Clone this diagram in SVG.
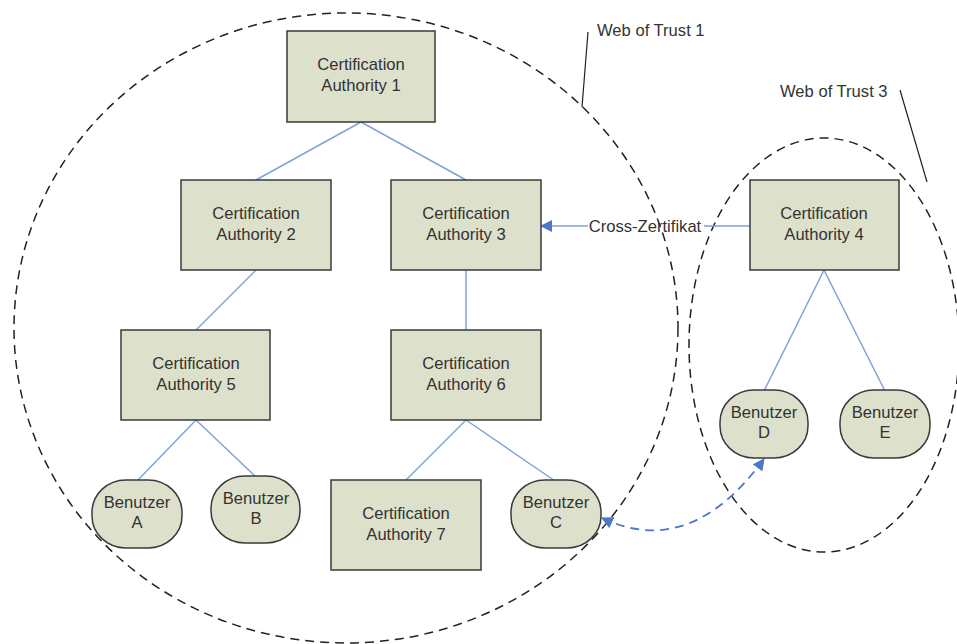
<svg xmlns="http://www.w3.org/2000/svg" width="957" height="644" viewBox="0 0 957 644">
<style>
.box{fill:#dde0cb;stroke:#3a3a3a;stroke-width:1.5}
.usr{fill:#dde0cb;stroke:#3a3a3a;stroke-width:1.5}
.t{font-family:"Liberation Sans",Arial,sans-serif;font-size:16.6px;fill:#333;text-anchor:middle}
.lbl{font-family:"Liberation Sans",Arial,sans-serif;font-size:16.6px;fill:#333}
.ln{stroke:#7fa3d8;stroke-width:1.5;fill:none}
.web{fill:none;stroke:#222;stroke-width:1.5;stroke-dasharray:9,6}
.lead{stroke:#222;stroke-width:1.2;fill:none}
</style>
<defs>
<marker id="ahs" markerWidth="12" markerHeight="12" refX="1" refY="6" orient="auto" markerUnits="userSpaceOnUse" viewBox="0 0 12 12">
<path d="M12,0 L0,6 L12,12 z" fill="#4a78c8"/>
</marker>
<marker id="ahe" markerWidth="12" markerHeight="12" refX="11" refY="6" orient="auto" markerUnits="userSpaceOnUse" viewBox="0 0 12 12">
<path d="M0,0 L12,6 L0,12 z" fill="#4a78c8"/>
</marker>
</defs>
<rect width="957" height="644" fill="#fff"/>
<g id="webs">
<ellipse class="web" cx="346" cy="328" rx="332" ry="315"/>
<ellipse class="web" cx="824" cy="345" rx="135" ry="207"/>
<path class="lead" d="M588,32 L582,107"/>
<path class="lead" d="M900,90 L927,182"/>
<text class="lbl" x="597" y="36">Web of Trust 1</text>
<text class="lbl" x="780" y="97">Web of Trust 3</text>
</g>
<g id="connectors">
<path class="ln" d="M361,122 L256,180"/>
<path class="ln" d="M361,122 L466,180"/>
<path class="ln" d="M256,270 L196,330"/>
<path class="ln" d="M466,270 L466,330"/>
<path class="ln" d="M196,420 L137,481"/>
<path class="ln" d="M196,420 L256,477"/>
<path class="ln" d="M466,420 L406,480"/>
<path class="ln" d="M466,420 L555,481"/>
<path class="ln" d="M824,270 L764,391"/>
<path class="ln" d="M824,270 L885,391"/>
<path class="ln" d="M750,226 L704,226 M588,226 L541,226" marker-end="url(#ahe)"/>
<path d="M602,518 Q690,560 764,459" fill="none" stroke="#4a78c8" stroke-width="1.8" stroke-dasharray="9,6" marker-start="url(#ahs)" marker-end="url(#ahe)"/>
<text class="t" x="645" y="232">Cross-Zertifikat</text>
</g>
<g id="ca1"><rect class="box" x="287" y="31" width="148" height="91"/><text class="t" x="361" y="70">Certification</text><text class="t" x="361" y="91">Authority 1</text></g>
<g id="ca2"><rect class="box" x="181" y="180" width="150" height="90"/><text class="t" x="256" y="219">Certification</text><text class="t" x="256" y="240">Authority 2</text></g>
<g id="ca3"><rect class="box" x="391" y="180" width="150" height="90"/><text class="t" x="466" y="219">Certification</text><text class="t" x="466" y="240">Authority 3</text></g>
<g id="ca4"><rect class="box" x="750" y="180" width="149" height="90"/><text class="t" x="824" y="219">Certification</text><text class="t" x="824" y="240">Authority 4</text></g>
<g id="ca5"><rect class="box" x="121" y="330" width="149" height="90"/><text class="t" x="196" y="369">Certification</text><text class="t" x="196" y="390">Authority 5</text></g>
<g id="ca6"><rect class="box" x="391" y="330" width="150" height="90"/><text class="t" x="466" y="369">Certification</text><text class="t" x="466" y="390">Authority 6</text></g>
<g id="ca7"><rect class="box" x="331" y="480" width="150" height="90"/><text class="t" x="406" y="519">Certification</text><text class="t" x="406" y="540">Authority 7</text></g>
<g id="ua"><rect class="usr" x="92" y="480" width="90" height="68" rx="34" ry="32"/><text class="t" x="137" y="508">Benutzer</text><text class="t" x="137" y="528">A</text></g>
<g id="ub"><rect class="usr" x="211" y="476" width="89" height="67" rx="34" ry="32"/><text class="t" x="256" y="504">Benutzer</text><text class="t" x="256" y="524">B</text></g>
<g id="uc"><rect class="usr" x="511" y="480" width="90" height="68" rx="34" ry="32"/><text class="t" x="556" y="508">Benutzer</text><text class="t" x="556" y="528">C</text></g>
<g id="ud"><rect class="usr" x="720" y="390" width="88" height="68" rx="34" ry="32"/><text class="t" x="764" y="418">Benutzer</text><text class="t" x="764" y="438">D</text></g>
<g id="ue"><rect class="usr" x="840" y="390" width="90" height="68" rx="34" ry="32"/><text class="t" x="885" y="418">Benutzer</text><text class="t" x="885" y="438">E</text></g>
</svg>
